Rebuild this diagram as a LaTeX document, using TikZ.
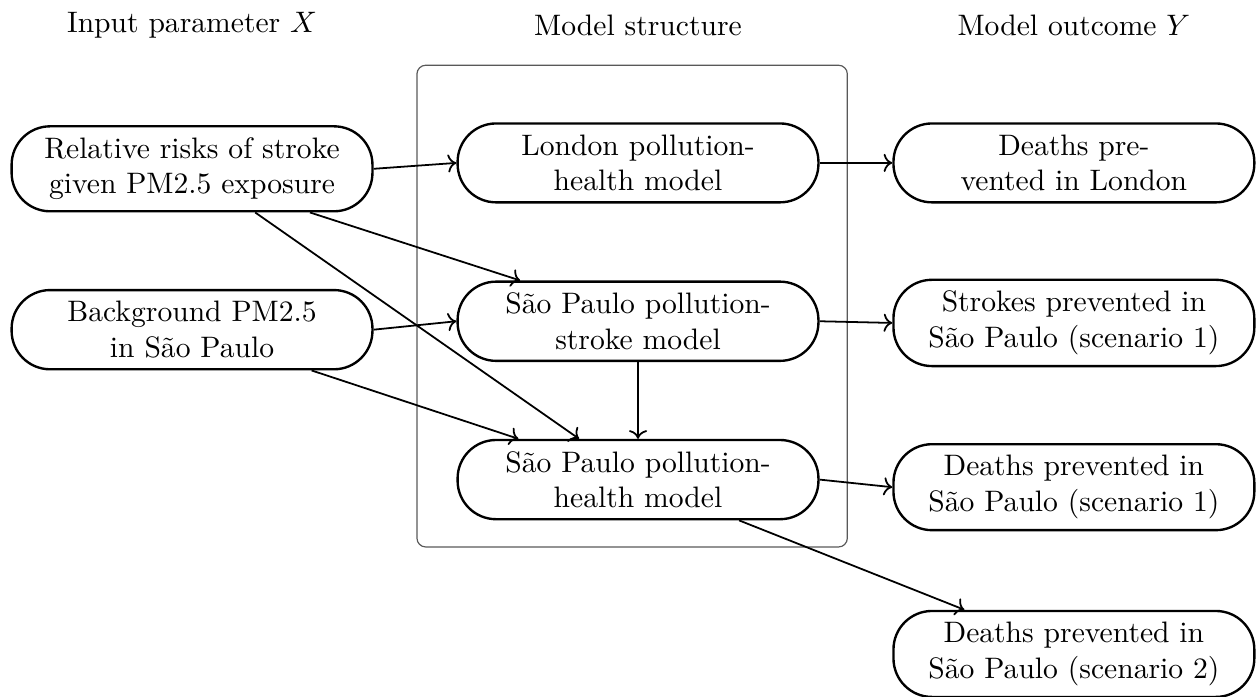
\documentclass[tikz,border=0pt]{standalone}
\usepackage{fontspec}
\usetikzlibrary{arrows.meta}

\begin{document}
\begin{tikzpicture}
\useasboundingbox (0,0) rectangle (14.924,8.264);

% column titles
\node (inhead) at (2.28,7.96) {Input parameter $X$};
\node (modhead) at (7.575,7.96) {Model structure};
\node (outhead) at (12.75,7.96) {Model outcome $Y$};

% model frame
\draw [black!65, rounded corners=3pt] (4.95,1.77) rectangle (10.06,7.49);

\begin{scope}[every node/.style={rectangle,rounded corners=13pt,thick,draw,
              text width=4.05cm,align=center,inner ysep=3.8pt}]
    \node (rr) at (2.28,6.26) {Relative risks of stroke\\given PM2.5 exposure};
    \node (bg) at (2.28,4.35) {Background PM2.5\\in São Paulo};
    \node (london) at (7.575,6.33) {London pollution-\\health model};
    \node (spstroke) at (7.575,4.45) {São Paulo pollution-\\stroke model};
    \node (sphealth) at (7.575,2.57) {São Paulo pollution-\\health model};
    \node (dlondon) at (12.75,6.33) {Deaths pre-\\vented in London};
    \node (sstroke) at (12.75,4.43) {Strokes prevented in\\São Paulo (scenario 1)};
    \node (dsp1) at (12.75,2.48) {Deaths prevented in\\São Paulo (scenario 1)};
    \node (dsp2) at (12.75,0.5) {Deaths prevented in\\São Paulo (scenario 2)};
\end{scope}

\begin{scope}[>={To[black]},
              every edge/.style={draw=black, semithick}]
    \path [->] (rr.east) edge (london.west);
    \path [->] ([xshift=1.4cm]rr.south) edge ([xshift=-1.4cm]spstroke.north);
    \path [->] ([xshift=0.75cm]rr.south) edge ([xshift=-0.7cm]sphealth.north);
    \path [->] (bg.east) edge (spstroke.west);
    \path [->] ([xshift=1.42cm]bg.south) edge ([xshift=-1.42cm]sphealth.north);
    \path [->] (spstroke) edge (sphealth);
    \path [->] (london.east) edge (dlondon.west);
    \path [->] (spstroke.east) edge (sstroke.west);
    \path [->] (sphealth.east) edge (dsp1.west);
    \path [->] ([xshift=1.2cm]sphealth.south) edge ([xshift=-1.3cm]dsp2.north);
\end{scope}
\end{tikzpicture}
\end{document}
